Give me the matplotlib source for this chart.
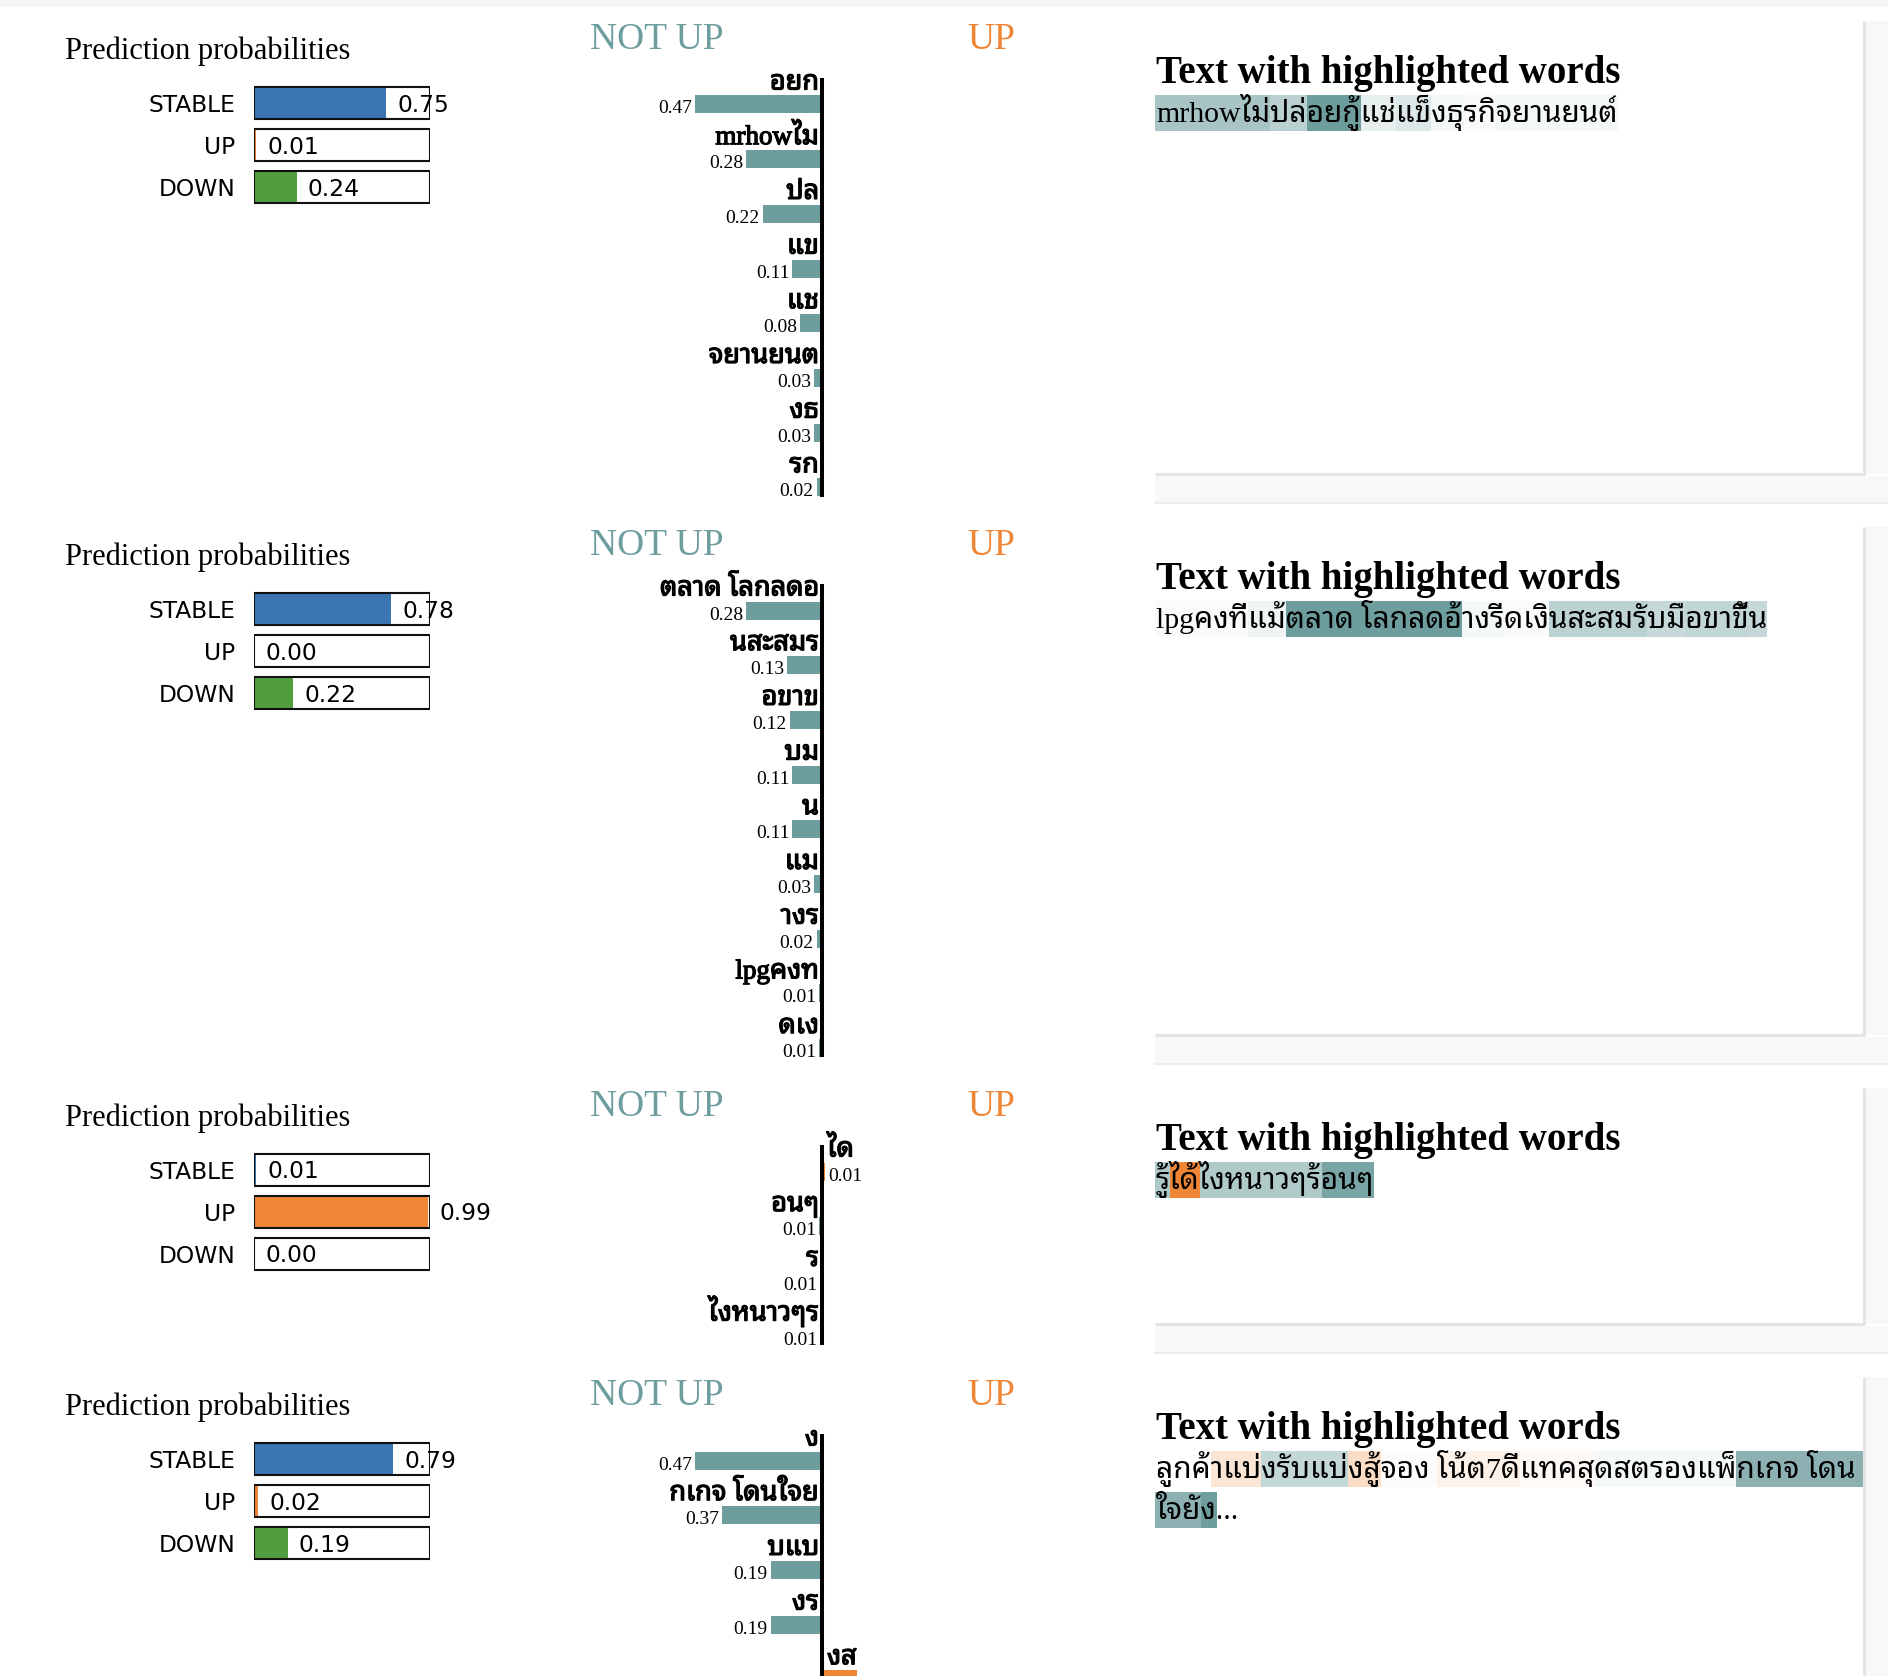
import re
import matplotlib
matplotlib.use('Agg')
import matplotlib.pyplot as plt
from matplotlib import font_manager
from matplotlib.ft2font import FT2Font
from matplotlib.patches import Rectangle
import matplotlib.patheffects as pe

# ---- data ----
classes = ['STABLE', 'UP', 'DOWN']
class_colors = ['#3A76AF', '#EF8636', '#519E3E']

probs_1 = [0.75, 0.01, 0.24]
probs_2 = [0.78, 0.00, 0.22]
probs_3 = [0.01, 0.99, 0.00]
probs_4 = [0.79, 0.02, 0.19]

feat_1 = ['อยก', 'mrhowไม', 'ปล', 'แข', 'แช', 'จยานยนต', 'งธ', 'รก']
w_1 = [-0.47, -0.28, -0.22, -0.11, -0.08, -0.03, -0.03, -0.02]
txt_1 = ['mrhowไม่', 'ปล่', 'อยกู้', 'แช่', 'แข็', 'งธุ', 'รกิ', 'จยานยนต์']
tw_1 = [-0.28, -0.22, -0.47, -0.08, -0.11, -0.03, -0.02, -0.03]

feat_2 = ['ตลาด โลกลดอ', 'นสะสมร', 'อขาข', 'บม', 'น', 'แม', 'างร', 'lpgคงท', 'ดเง']
w_2 = [-0.28, -0.13, -0.12, -0.11, -0.11, -0.03, -0.02, -0.01, -0.01]
txt_2 = ['lpgคงที่', 'แม้', 'ตลาด โลกลดอ้', 'างรี', 'ดเงิ', 'นสะสมรั', 'บมื', 'อขาขึ้', 'น']
tw_2 = [-0.01, -0.03, -0.28, -0.02, -0.01, -0.13, -0.11, -0.12, -0.11]

feat_3 = ['ได', 'อนๆ', 'ร', 'ไงหนาวๆร']
w_3 = [0.012, -0.011, -0.0066, -0.0065]
txt_3 = ['รู้', 'ได้', 'ไงหนาวๆร้', 'อนๆ']
tw_3 = [-0.0066, 0.012, -0.0065, -0.011]

# only the rows visible before the screenshot is cut off
feat_4 = ['ง', 'กเกจ โดนใจย', 'บแบ', 'งร', 'งส']
w_4 = [-0.47, -0.37, -0.19, -0.19, 0.13]
txt_4 = ['ลูกค้', 'าแบ่', 'งรั', 'บแบ่', 'งสู้', 'จอง ', 'โน้ต7ดี', 'แทคสุ', 'ดสตรองแพ็',
         'กเกจ โดน ใจยั', 'ง', '...']
tw_4 = [0, 0.10, -0.19, -0.19, 0.13, 0.01, 0.05, 0.02, -0.03, -0.37, -0.47, 0]

neg_color = '#6E9D9E'
pos_color = '#EF8636'

# ---- layout (pixels) ----
W, H = 1888, 1676
anchors = [49, 555, 1116, 1405]   # baseline of the NOT UP / UP titles per panel
pitch = 54.7


def find_thai():
    prefer = ['Noto Sans Thai Looped', 'Loma', 'Garuda', 'Waree', 'Norasi', 'Kinnari',
              'Tlwg Typo', 'Umpush', 'Laksaman', 'Sarabun', 'Noto Sans Thai', 'Noto Sans Thai UI',
              'Noto Serif Thai']
    found = []
    for f in font_manager.fontManager.ttflist:
        try:
            if 0x0E01 in FT2Font(f.fname).get_charmap():
                found.append(f.name)
        except Exception:
            pass
    for p in prefer:
        if p in found:
            return p
    return found[0] if found else 'DejaVu Sans'


thai = find_thai()
serif_thai = ['Liberation Serif', thai, 'DejaVu Sans']
bold_fx = [pe.withStroke(linewidth=0.9, foreground='black')]

fig = plt.figure(figsize=(W / 100, H / 100), dpi=100)
bg = fig.add_axes([0, 0, 1, 1])
bg.set_xlim(0, W)
bg.set_ylim(H, 0)
bg.axis('off')
renderer = fig.canvas.get_renderer()


def px_axes(x0, y0, w, h):
    return fig.add_axes([x0 / W, 1 - (y0 + h) / H, w / W, h / H])


def text_width(s, props):
    if not s.strip():
        return 0.0
    t = bg.text(0, 0, s, **props)
    w = t.get_window_extent(renderer).width
    t.remove()
    return w


bg.add_patch(Rectangle((0, 0), W, 7, color='#f5f5f5', lw=0))

panels = [
    (probs_1, feat_1, w_1, txt_1, tw_1),
    (probs_2, feat_2, w_2, txt_2, tw_2),
    (probs_3, feat_3, w_3, txt_3, tw_3),
    (probs_4, feat_4, w_4, txt_4, tw_4),
]

for k, (probs, feats, weights, segs, segw) in enumerate(panels):
    A = anchors[k]

    # prediction probabilities
    bg.text(65, A + 10, 'Prediction probabilities', fontsize=22,
            family='Liberation Serif', va='baseline')
    ax = px_axes(254.5, A + 33, 175.5, 126)
    ax.barh(range(3), probs, height=0.76, color=class_colors)
    ax.barh(range(3), [1] * 3, height=0.76, fill=False, edgecolor='#111111', lw=1.5)
    ax.set_xlim(0, 1)
    ax.set_ylim(2.5, -0.5)
    ax.set_yticks(range(3), classes)
    ax.set_xticks([])
    ax.tick_params(axis='y', length=0, pad=14, labelsize=16.8)
    for s in ax.spines.values():
        s.set_visible(False)
    for i, p in enumerate(probs):
        ax.annotate(f'{p:.2f}', (p, i), xytext=(11, -8.5), textcoords='offset pixels',
                    va='baseline', fontsize=16.8, family='DejaVu Sans')

    # feature weights
    bg.text(590, A, 'NOT UP', fontsize=27, color=neg_color, family='Liberation Serif', va='baseline')
    bg.text(967, A, 'UP', fontsize=27, color=pos_color, family='Liberation Serif', va='baseline')
    n = len(feats)
    bar0 = A + 55.5
    fx = px_axes(552, bar0 - pitch / 2, 540, n * pitch)
    cols = [neg_color if w < 0 else pos_color for w in weights]
    fx.barh(range(n), weights, height=18 / pitch, color=cols)
    fx.vlines(0, -0.49, n - 1 + 0.17, color='black', lw=2.9)
    fx.set_xlim(-1, 1)
    fx.set_ylim(n - 0.5, -0.5)
    fx.axis('off')
    for i, (name, w) in enumerate(zip(feats, weights)):
        side = -1 if w < 0 else 1
        ha = 'right' if w < 0 else 'left'
        fx.annotate(name, (0, i), xytext=(-3 if w < 0 else 5, 15), textcoords='offset pixels',
                    ha=ha, va='baseline', fontsize=19.5, family=serif_thai, path_effects=bold_fx)
        # value text sits under the bar; skip it where the screenshot is cut off
        if bar0 + i * pitch + 9 < H - 4:
            fx.annotate(f'{abs(w):.2f}', (w, i), xytext=(3 * side, -9), textcoords='offset pixels',
                        ha=ha, va='baseline', fontsize=14, family='Liberation Serif')

    # text panel frame
    bottom = anchors[k + 1] - 81 if k + 1 < len(anchors) else H + 10
    top = A - 28
    bg.add_patch(Rectangle((1865, top), W - 1865, bottom - top, color='#f8f8f8', lw=0))
    bg.plot([1864, 1864], [top, bottom], color='#e4e4e4', lw=2.2, solid_capstyle='butt')
    if k + 1 < len(anchors):
        bg.plot([1155, 1865.1], [bottom, bottom], color='#e4e4e4', lw=2.2, solid_capstyle='butt')
        bg.add_patch(Rectangle((1155, bottom + 1.5), W - 1155, 27, color='#f8f8f8', lw=0))
        bg.plot([1155, W], [bottom + 29, bottom + 29], color='#ececec', lw=1.5)

    bg.text(1156, A + 34, 'Text with highlighted words', fontsize=28, fontweight='bold',
            family='Liberation Serif', va='baseline')

    # highlighted text, wrapped at the panel width
    props = dict(fontsize=21.5, family=serif_thai, va='baseline')
    full = ''.join(segs)
    bounds = []
    pos = 0
    for s in segs:
        bounds.append((pos, pos + len(s)))
        pos += len(s)
    max_w = 1880 - 1156
    lines = []
    start = 0
    breaks = [m.end() for m in re.finditer(r' +', full)] + [len(full)]
    last_ok = None
    for b in breaks:
        if text_width(full[start:b], props) > max_w and last_ok is not None:
            lines.append((start, last_ok))
            start = last_ok
        last_ok = b
    lines.append((start, len(full)))

    vmax = max(abs(w) for w in weights)
    x0 = 1156
    for li, (ls, le) in enumerate(lines):
        rtop = A + 46 + li * 41
        for (a, b), w in zip(bounds, segw):
            a2, b2 = max(a, ls), min(b, le)
            if b2 <= a2 or w == 0:
                continue
            xa = x0 + text_width(full[ls:a2], props) if a2 > ls else x0 - 1
            xb = x0 + text_width(full[ls:b2], props)
            c = neg_color if w < 0 else pos_color
            bg.add_patch(Rectangle((xa, rtop), xb - xa, 36, facecolor=c,
                                   alpha=min(abs(w) / vmax, 1), lw=0, zorder=1))
        bg.text(x0, rtop + 27, full[ls:le], zorder=2, **props)

fig.savefig('out.png', dpi=100)
